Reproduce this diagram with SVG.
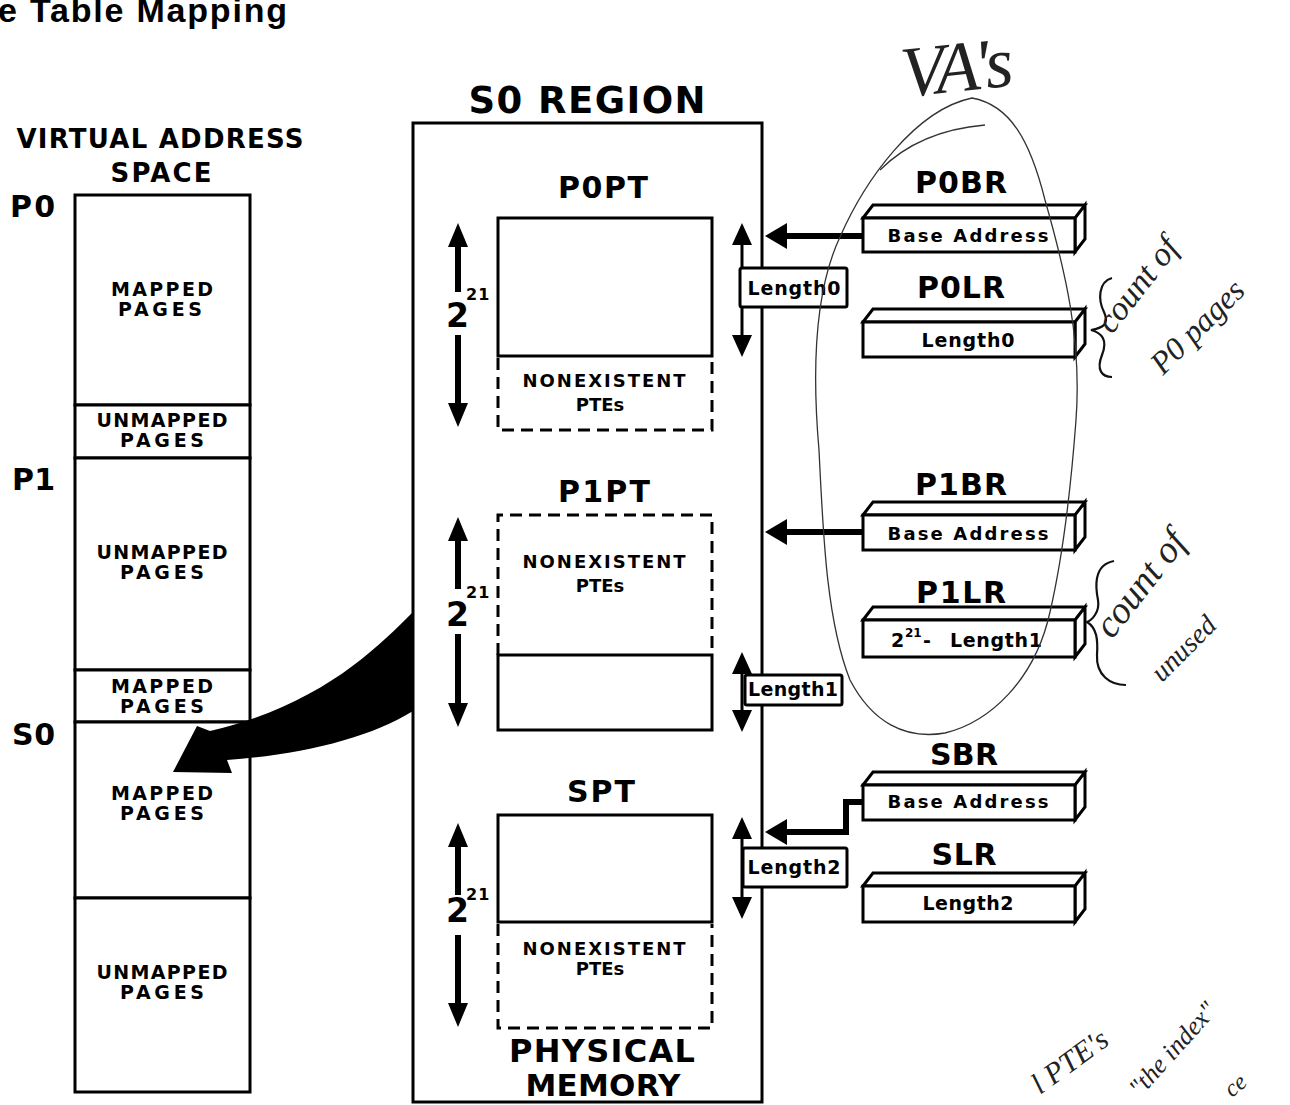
<svg xmlns="http://www.w3.org/2000/svg" xmlns:xlink="http://www.w3.org/1999/xlink" width="1290" height="1105" viewBox="0 0 1290 1105">
<style>
.b{font-family:"DejaVu Sans","Liberation Sans",Arial,sans-serif;font-weight:bold;fill:#000}
.c{text-anchor:middle}
.box{fill:#fff;stroke:#000;stroke-width:3}
.dash{fill:none;stroke:#000;stroke-width:3;stroke-dasharray:12 7}
.thick{fill:none;stroke:#000;stroke-width:6}
.thin{fill:none;stroke:#000;stroke-width:3}
.hand{font-family:"Liberation Serif",serif;font-style:italic;fill:#222}
.pencil{fill:none;stroke:#333;stroke-width:1.3}
.ink{fill:none;stroke:#111;stroke-width:2.2}
</style>
<defs>
<path id="upL" d="M0,0 L10,24 L-10,24 Z"/>
<path id="dnL" d="M0,0 L10,-24 L-10,-24 Z"/>
<path id="upS" d="M0,0 L10,22 L-10,22 Z"/>
<path id="dnS" d="M0,0 L10,-22 L-10,-22 Z"/>
<path id="lft" d="M0,0 L22,-13 L22,13 Z"/>
</defs>
<rect width="1290" height="1105" fill="#fff"/>

<text x="-2" y="22" font-family="Liberation Sans, Arial, sans-serif" font-weight="bold" font-size="34" textLength="289">e Table Mapping</text>

<!-- Virtual address space -->
<g id="va-space">
<text class="b c" x="160" y="148" font-size="26" textLength="287">VIRTUAL ADDRESS</text>
<text class="b c" x="161" y="182" font-size="26" textLength="101">SPACE</text>
<text class="b" x="10" y="217" font-size="30" textLength="45">P0</text>
<text class="b" x="12" y="490" font-size="30" textLength="43">P1</text>
<text class="b" x="12" y="745" font-size="30" textLength="43">S0</text>
<rect class="box" x="75" y="195" width="175" height="210"/>
<rect class="box" x="75" y="405" width="175" height="53"/>
<rect class="box" x="75" y="458" width="175" height="212"/>
<rect class="box" x="75" y="670" width="175" height="52"/>
<rect class="box" x="75" y="722" width="175" height="176"/>
<rect class="box" x="75" y="898" width="175" height="194"/>
<g class="b c" font-size="19">
<text x="162" y="296" textLength="102">MAPPED</text><text x="160" y="316" textLength="84">PAGES</text>
<text x="162" y="427" textLength="131">UNMAPPED</text><text x="162" y="447" textLength="84">PAGES</text>
<text x="162" y="559" textLength="131">UNMAPPED</text><text x="162" y="579" textLength="84">PAGES</text>
<text x="162" y="693" textLength="102">MAPPED</text><text x="162" y="713" textLength="84">PAGES</text>
<text x="162" y="800" textLength="102">MAPPED</text><text x="162" y="820" textLength="84">PAGES</text>
<text x="162" y="979" textLength="131">UNMAPPED</text><text x="162" y="999" textLength="84">PAGES</text>
</g>
</g>

<!-- S0 region -->
<g id="s0-region">
<text class="b c" x="587" y="113" font-size="37" textLength="237">S0 REGION</text>
<rect class="box" x="413" y="123" width="349" height="979"/>
<text class="b c" x="602" y="1062" font-size="32" textLength="186">PHYSICAL</text>
<text class="b c" x="603" y="1096" font-size="31" textLength="155">MEMORY</text>
</g>

<g id="p0pt">
<text class="b c" x="603" y="198" font-size="30" textLength="90">P0PT</text>
<rect class="box" x="498" y="218" width="214" height="138"/>
<path class="dash" d="M498,358 V430 H712 V358"/>
<text class="b c" x="604" y="387" font-size="18" textLength="163">NONEXISTENT</text>
<text class="b c" x="600" y="411" font-size="18">PTEs</text>
<line class="thick" x1="458" y1="245" x2="458" y2="292"/>
<line class="thick" x1="458" y1="335" x2="458" y2="405"/>
<use xlink:href="#upL" x="458" y="223"/><use xlink:href="#dnL" x="458" y="427"/>
<text class="b" x="446" y="327" font-size="33">2</text>
<text class="b" x="466" y="300" font-size="16" letter-spacing="1">21</text>
</g>

<g id="p1pt">
<text class="b c" x="604" y="502" font-size="30" textLength="92">P1PT</text>
<path class="dash" d="M498,655 V515 H712 V655"/>
<rect class="box" x="498" y="655" width="214" height="75"/>
<text class="b c" x="604" y="568" font-size="18" textLength="163">NONEXISTENT</text>
<text class="b c" x="600" y="592" font-size="18">PTEs</text>
<line class="thick" x1="458" y1="539" x2="458" y2="589"/>
<line class="thick" x1="458" y1="634" x2="458" y2="705"/>
<use xlink:href="#upL" x="458" y="517"/><use xlink:href="#dnL" x="458" y="727"/>
<text class="b" x="446" y="626" font-size="33">2</text>
<text class="b" x="466" y="598" font-size="16" letter-spacing="1">21</text>
</g>

<g id="spt">
<text class="b c" x="601" y="802" font-size="30" textLength="68">SPT</text>
<rect class="box" x="498" y="815" width="214" height="107"/>
<path class="dash" d="M498,924 V1028 H712 V924"/>
<text class="b c" x="604" y="955" font-size="18" textLength="163">NONEXISTENT</text>
<text class="b c" x="600" y="975" font-size="18">PTEs</text>
<line class="thick" x1="458" y1="845" x2="458" y2="895"/>
<line class="thick" x1="458" y1="935" x2="458" y2="1005"/>
<use xlink:href="#upL" x="458" y="823"/><use xlink:href="#dnL" x="458" y="1027"/>
<text class="b" x="446" y="922" font-size="33">2</text>
<text class="b" x="466" y="900" font-size="16" letter-spacing="1">21</text>
</g>

<!-- length indicators -->
<g id="length0">
<line class="thin" x1="742" y1="240" x2="742" y2="340"/>
<use xlink:href="#upS" x="742" y="223"/><use xlink:href="#dnS" x="742" y="357"/>
<rect class="box" x="740" y="268" width="107" height="39" rx="2"/>
<text class="b c" x="794" y="295" font-size="19" textLength="93">Length0</text>
</g>
<g id="length1">
<line class="thin" x1="742" y1="670" x2="742" y2="715"/>
<use xlink:href="#upS" x="742" y="652"/><use xlink:href="#dnS" x="742" y="732"/>
<rect class="box" x="745" y="675" width="97" height="30" rx="2"/>
<text class="b c" x="793" y="696" font-size="19" textLength="90">Length1</text>
</g>
<g id="length2">
<line class="thin" x1="742" y1="835" x2="742" y2="900"/>
<use xlink:href="#upS" x="742" y="817"/><use xlink:href="#dnS" x="742" y="919"/>
<rect class="box" x="743" y="848" width="104" height="39" rx="2"/>
<text class="b c" x="794" y="874" font-size="19" textLength="93">Length2</text>
</g>

<!-- registers -->
<g id="p0br">
<text class="b c" x="961" y="193" font-size="30" textLength="92">P0BR</text>
<path class="box" d="M863,218 L873,205 H1085 L1075,218 Z M1075,218 L1085,205 V239 L1075,252 Z"/>
<rect class="box" x="863" y="218" width="212" height="34"/>
<text class="b c" x="968" y="242" font-size="18" textLength="161">Base Address</text>
</g>
<g id="p0lr">
<text class="b c" x="961" y="298" font-size="30" textLength="88">P0LR</text>
<path class="box" d="M863,322 L873,309 H1085 L1075,322 Z M1075,322 L1085,309 V344 L1075,357 Z"/>
<rect class="box" x="863" y="322" width="212" height="35"/>
<text class="b c" x="968" y="347" font-size="19" textLength="93">Length0</text>
</g>
<g id="p1br">
<text class="b c" x="961" y="495" font-size="30" textLength="92">P1BR</text>
<path class="box" d="M863,515 L873,502 H1085 L1075,515 Z M1075,515 L1085,502 V537 L1075,550 Z"/>
<rect class="box" x="863" y="515" width="212" height="35"/>
<text class="b c" x="968" y="540" font-size="18" textLength="161">Base Address</text>
</g>
<g id="p1lr">
<text class="b c" x="961" y="603" font-size="30" textLength="90">P1LR</text>
<path class="box" d="M863,620 L873,607 H1085 L1075,620 Z M1075,620 L1085,607 V644 L1075,657 Z"/>
<rect class="box" x="863" y="620" width="212" height="37"/>
<text class="b" y="647" font-size="19"><tspan x="891">2</tspan><tspan x="905" y="637" font-size="12">21</tspan><tspan x="923" y="647">-</tspan><tspan x="950" textLength="92">Length1</tspan></text>
</g>
<g id="sbr">
<text class="b c" x="964" y="765" font-size="30" textLength="68">SBR</text>
<path class="box" d="M863,785 L873,772 H1085 L1075,785 Z M1075,785 L1085,772 V807 L1075,820 Z"/>
<rect class="box" x="863" y="785" width="212" height="35"/>
<text class="b c" x="968" y="808" font-size="18" textLength="161">Base Address</text>
</g>
<g id="slr">
<text class="b c" x="964" y="865" font-size="30" textLength="65">SLR</text>
<path class="box" d="M863,886 L873,873 H1085 L1075,886 Z M1075,886 L1085,873 V909 L1075,922 Z"/>
<rect class="box" x="863" y="886" width="212" height="36"/>
<text class="b c" x="968" y="910" font-size="19" textLength="91">Length2</text>
</g>

<!-- connectors -->
<g id="connectors">
<line class="thick" x1="863" y1="236" x2="785" y2="236"/>
<use xlink:href="#lft" x="765" y="236"/>
<line class="thick" x1="863" y1="532" x2="785" y2="532"/>
<use xlink:href="#lft" x="765" y="532"/>
<path class="thick" d="M863,802 H846 V832 H785"/>
<use xlink:href="#lft" x="765" y="832"/>
<path fill="#000" d="M413,612 C375,650 320,705 210,731 L197,726 L173,772 L232,773 L227,760 C300,755 370,738 413,711 Z"/>
</g>

<!-- handwritten annotations -->
<g id="annotations">
<path class="pencil" d="M972,98 C1010,105 1030,140 1045,200 C1065,270 1082,340 1076,420 C1070,500 1062,560 1050,612 C1035,680 990,722 945,733 C905,740 872,722 850,680 C826,620 823,530 819,450 C812,370 815,290 840,237 C865,180 915,110 972,98 Z"/>
<path class="pencil" d="M880,170 C910,140 950,128 985,125"/>
<text class="hand" x="900" y="92" font-size="72" font-weight="normal" textLength="112" transform="rotate(-6 950 60)">VA's</text>
<path class="ink" d="M1112,278 C1098,282 1098,300 1104,312 C1110,325 1102,328 1091,330 C1102,333 1108,340 1102,355 C1096,370 1102,377 1112,377"/>
<text class="hand" x="1112" y="335" font-size="34" transform="rotate(-52 1112 335)">count of</text>
<text class="hand" x="1163" y="376" font-size="32" transform="rotate(-45 1163 376)">P0 pages</text>
<path class="ink" d="M1114,561 C1092,565 1096,590 1098,600 C1100,612 1092,620 1087,622 C1097,628 1098,640 1097,655 C1096,675 1110,685 1126,685"/>
<text class="hand" x="1112" y="640" font-size="38" transform="rotate(-52 1112 640)">count of</text>
<text class="hand" x="1162" y="683" font-size="28" transform="rotate(-45 1162 683)">unused</text>
<text class="hand" x="1040" y="1095" font-size="30" transform="rotate(-36 1040 1095)">l PTE's</text>
<text class="hand" x="1140" y="1098" font-size="26" transform="rotate(-48 1140 1098)">"the index"</text>
<text class="hand" x="1232" y="1098" font-size="24" transform="rotate(-40 1232 1098)">ce</text>
</g>
</svg>
